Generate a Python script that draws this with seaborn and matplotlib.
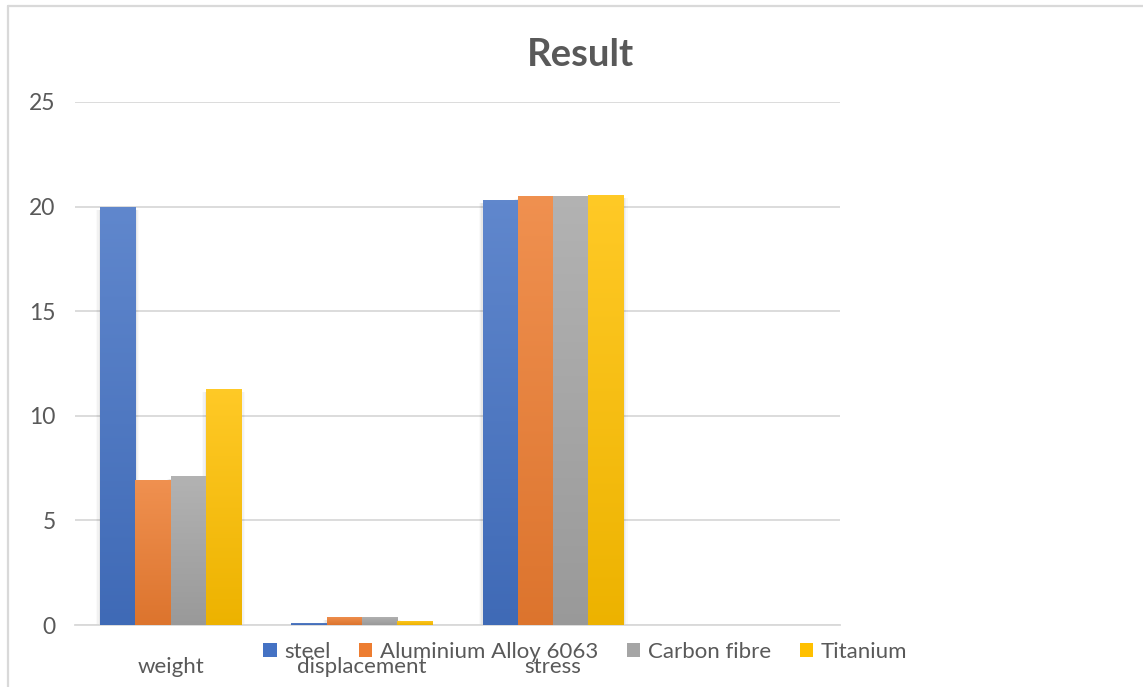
import numpy as np
import pandas as pd
import matplotlib
matplotlib.use("Agg")
import matplotlib.pyplot as plt
import matplotlib.colors as mcolors
from matplotlib.patches import Patch, Rectangle
from matplotlib.lines import Line2D
import seaborn as sns

categories = ["weight", "displacement", "stress"]
series = ["steel", "Aluminium Alloy 6063", "Carbon fibre", "Titanium"]
steel = [20.0, 0.11, 20.31]
aluminium = [6.93, 0.40, 20.50]
carbon = [7.12, 0.40, 20.50]
titanium = [11.28, 0.20, 20.55]
colors = ["#4472C4", "#ED7D31", "#A5A5A5", "#FFC000"]
yticks = [0, 5, 10, 15, 20, 25]
title = "Result"

rows = []
for s, vals in zip(series, [steel, aluminium, carbon, titanium]):
    for c, v in zip(categories, vals):
        rows.append({"category": c, "series": s, "value": v})
df = pd.DataFrame(rows)

sns.set_theme(style="white")
plt.rcParams["font.family"] = ["Lato", "DejaVu Sans"]
text_color = "#595959"
grid_color = "#d9d9d9"

W, H = 1143, 687
fig = plt.figure(figsize=(W / 100, H / 100), dpi=100)
ax = fig.add_axes([75 / W, 1 - 625 / H, (840 - 75) / W, (625 - 102) / H])

sns.barplot(data=df, x="category", y="value", hue="series", order=categories,
            hue_order=series, palette=colors, width=0.737, gap=0,
            legend=False, ax=ax, saturation=1, zorder=3, linewidth=0)

ax.set_xlim(-0.5, 3.5)
ax.set_ylim(0, 25)


def shade(c, f):
    r = np.array(mcolors.to_rgb(c))
    if f > 0:
        return r + (1 - r) * f
    return r * (1 + f)


# gradient fill + soft shadow per bar
for i, p in enumerate(list(ax.patches)):
    x, y0 = p.get_x(), p.get_y()
    w, h = p.get_width(), p.get_height()
    if h <= 0:
        continue
    base = p.get_facecolor()
    for k, a in enumerate([0.045, 0.03, 0.02]):
        dx = 0.007 * (k + 1)
        sh = Rectangle((x - dx, y0), w + 2 * dx, max(h - 0.15, 0),
                       facecolor="black", alpha=a, edgecolor="none", zorder=2)
        ax.add_patch(sh)
    top = shade(base, 0.15)
    bot = shade(base, -0.07)
    n = 100
    t = np.linspace(0, 1, n)[:, None]
    grad = (top[None, :] * (1 - t) + bot[None, :] * t)[:, None, :]
    im = ax.imshow(grad, extent=[x, x + w, y0, y0 + h], aspect="auto",
                   origin="upper", zorder=4, interpolation="bilinear")
    im.set_clip_path(p)

ax.set_xlim(-0.5, 3.5)
ax.set_ylim(0, 25)
ax.set_aspect("auto")

ax.set_yticks(yticks)
ax.set_yticklabels([str(v) for v in yticks])
ax.set_xticks(range(len(categories)))
ax.set_xticklabels(categories)
ax.tick_params(axis="y", length=0, pad=14, labelsize=16.5, labelcolor=text_color)
ax.tick_params(axis="x", length=0, pad=23, labelsize=16, labelcolor=text_color)
ax.set_xlabel("")
ax.set_ylabel("")
ax.grid(axis="y", color=grid_color, linewidth=1.3, zorder=0)
ax.set_axisbelow(True)
for s in ["left", "right", "top"]:
    ax.spines[s].set_visible(False)
ax.spines["bottom"].set_color(grid_color)
ax.spines["bottom"].set_linewidth(1.3)

fig.text(581 / W, 1 - 55 / H, title, ha="center", va="center",
         fontsize=27.5, fontweight="bold", color=text_color)

handles = [Patch(facecolor=c, edgecolor="none") for c in colors]
leg = fig.legend(handles, series, loc="center", ncol=4,
                 bbox_to_anchor=(585 / W, 1 - 652 / H), frameon=False,
                 fontsize=16, handlelength=0.6, handleheight=0.6,
                 handletextpad=0.33, columnspacing=1.3, labelcolor=text_color)

# chart-area border (top and left visible)
fig.add_artist(Line2D([8 / W, 8 / W], [0, 1 - 6 / H], transform=fig.transFigure,
                      color=grid_color, linewidth=1.6))
fig.add_artist(Line2D([8 / W, 1], [1 - 6 / H, 1 - 6 / H], transform=fig.transFigure,
                      color=grid_color, linewidth=1.6))

fig.savefig("out.png", dpi=100, facecolor="white")
